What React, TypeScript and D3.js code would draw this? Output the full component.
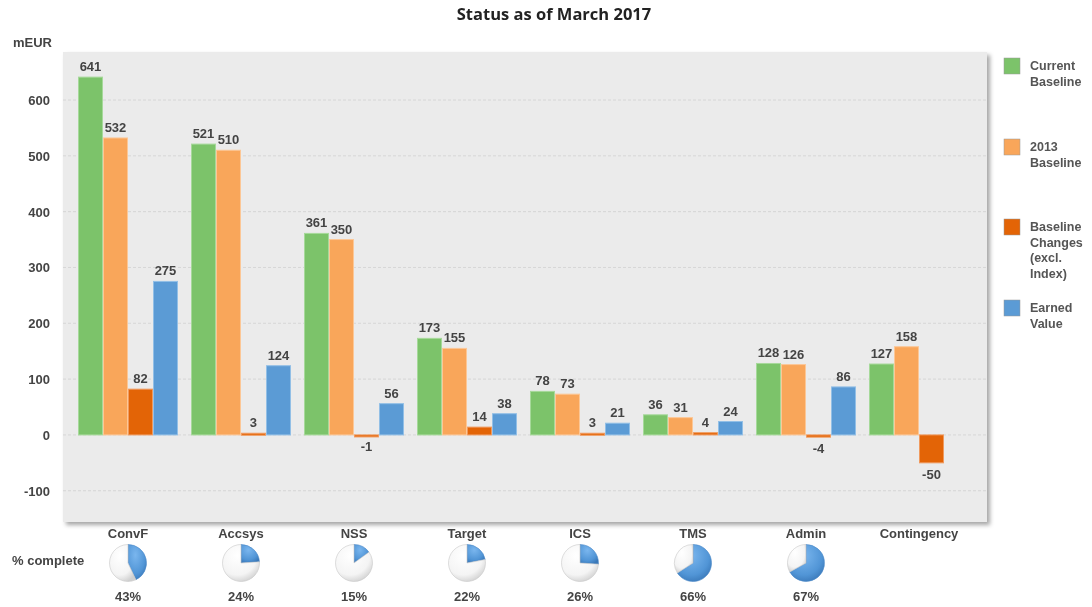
import React from "react";
import * as d3 from "d3";

const categories = ["ConvF", "Accsys", "NSS", "Target", "ICS", "TMS", "Admin", "Contingency"];
const currentBaseline = [641, 521, 361, 173, 78, 36, 128, 127];
const baseline2013 = [532, 510, 350, 155, 73, 31, 126, 158];
const baselineChanges = [82, 3, -1, 14, 3, 4, -4, -50];
const earnedValue: (number | null)[] = [275, 124, 56, 38, 21, 24, 86, null];
const percentComplete: (number | null)[] = [43, 24, 15, 22, 26, 66, 67, null];
const yTicks = [-100, 0, 100, 200, 300, 400, 500, 600];

const seriesNames = ["Current Baseline", "2013 Baseline", "Baseline Changes (excl. Index)", "Earned Value"];
const legendLines = [["Current", "Baseline"], ["2013", "Baseline"], ["Baseline", "Changes", "(excl.", "Index)"], ["Earned", "Value"]];
const colors = ["#7cc36a", "#f9a65a", "#e36406", "#5b9bd5"];
const strokes = ["#a6d99a", "#fcc796", "#f09a5e", "#92bfe6"];

const W = 1092, H = 607;
const plot = { left: 63, right: 987, top: 52, bottom: 522 };
const FONT = "'Liberation Sans', Arial, sans-serif";
const TXT = "#444";
const FS = 13;

export default function App() {
  const y = d3.scaleLinear().domain([-156, 686]).range([plot.bottom, plot.top]);
  const x0 = d3.scaleBand<string>().domain(categories).range([71.5, 975.5]).paddingInner(0.115).paddingOuter(0.0575);
  const x1 = d3.scaleBand<number>().domain([0, 1, 2, 3]).range([0, x0.bandwidth()]);
  const series = [currentBaseline, baseline2013, baselineChanges, earnedValue];
  const pie = d3.pie<number>().sort(null).value((d) => d);
  const arcGen = d3.arc<d3.PieArcDatum<number>>().innerRadius(0).outerRadius(18.5);

  return (
    <div style={{ position: "fixed", left: 0, top: 0 }}>
      <svg width={W} height={H} style={{ display: "block", fontFamily: FONT }}>
        <defs>
          <filter id="shadow" x="-5%" y="-5%" width="110%" height="115%">
            <feDropShadow dx="3" dy="3" stdDeviation="2" floodColor="#000" floodOpacity="0.35" />
          </filter>
          <radialGradient id="pieWhite" cx="40%" cy="30%" r="75%">
            <stop offset="0%" stopColor="#ffffff" />
            <stop offset="70%" stopColor="#f4f4f4" />
            <stop offset="100%" stopColor="#d0d0d0" />
          </radialGradient>
          <radialGradient id="pieBlue" cx="40%" cy="30%" r="75%">
            <stop offset="0%" stopColor="#7ab6ee" />
            <stop offset="70%" stopColor="#5195d6" />
            <stop offset="100%" stopColor="#3a78b8" />
          </radialGradient>
        </defs>
        <text x={554} y={20} textAnchor="middle" fontSize={16.5} fontWeight="bold" fill="#222" fontFamily="'Open Sans', sans-serif">
          Status as of March 2017
        </text>
        <text x={13} y={47} fontSize={FS} fontWeight="bold" fill={TXT}>mEUR</text>
        <rect x={plot.left} y={plot.top} width={plot.right - plot.left} height={plot.bottom - plot.top} fill="#ebebeb" filter="url(#shadow)" />
        {yTicks.map((t) => (
          <g key={t}>
            <line x1={plot.left} x2={plot.right} y1={y(t)} y2={y(t)} stroke="#d6d6d6" strokeDasharray="3,2" strokeWidth={1} />
            <text x={50} y={y(t) + 5} textAnchor="end" fontSize={FS} fontWeight="bold" fill={TXT}>{t}</text>
          </g>
        ))}
        {categories.map((c, ci) => (
          <g key={c} transform={`translate(${x0(c)},0)`}>
            {series.map((s, si) => {
              const v = s[ci];
              if (v === null || v === undefined) return null;
              const bx = x1(si)!;
              const bw = x1.bandwidth();
              const y0 = y(0);
              const yv = y(v);
              const top = Math.min(y0, yv);
              const h = Math.max(Math.abs(yv - y0), 2);
              const labelY = v >= 0 ? yv - 6 : yv + 16;
              return (
                <g key={si}>
                  <rect x={bx + 0.5} y={top} width={bw - 1} height={h} fill={colors[si]} stroke={strokes[si]} strokeWidth={1} />
                  <text x={bx + bw / 2} y={labelY} textAnchor="middle" fontSize={FS} fontWeight="bold" fill={TXT}>{v}</text>
                </g>
              );
            })}
          </g>
        ))}
        {categories.map((c, ci) => {
          const cx = x0(c)! + x0.bandwidth() / 2;
          const p = percentComplete[ci];
          return (
            <g key={"lab" + c}>
              <text x={cx} y={538} textAnchor="middle" fontSize={FS} fontWeight="bold" fill={TXT}>{c}</text>
              {p !== null && (
                <g transform={`translate(${cx},563)`}>
                  {pie([p, 100 - p]).map((a, i) => (
                    <path key={i} d={arcGen(a) || ""} fill={i === 0 ? "url(#pieBlue)" : "url(#pieWhite)"} stroke={i === 0 ? "#4a88c8" : "#c8c8c8"} strokeWidth={0.6} />
                  ))}
                  <text x={0} y={38} textAnchor="middle" fontSize={FS} fontWeight="bold" fill={TXT}>{p}%</text>
                </g>
              )}
            </g>
          );
        })}
        <text x={12} y={565} fontSize={FS} fontWeight="bold" fill={TXT}>% complete</text>
        {seriesNames.map((n, i) => {
          const tops = [58, 139, 219, 300];
          return (
            <g key={n}>
              <rect x={1004} y={tops[i]} width={16} height={16} fill={colors[i]} stroke="#999" strokeWidth={0.5} />
              {legendLines[i].map((l, li) => (
                <text key={li} x={1030} y={tops[i] + 12 + li * 15.5} fontSize={12.5} fontWeight="bold" fill="#555">{l}</text>
              ))}
            </g>
          );
        })}
      </svg>
    </div>
  );
}
